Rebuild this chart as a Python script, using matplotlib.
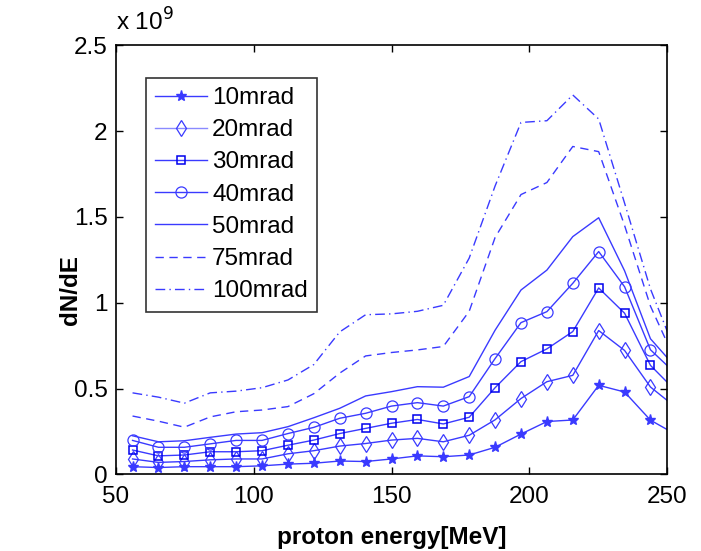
import matplotlib
matplotlib.use("Agg")
import matplotlib.pyplot as plt
from matplotlib.ticker import FuncFormatter

plt.rcParams['font.family'] = ['Liberation Sans', 'DejaVu Sans']

energy = [56, 65.4, 74.8, 84.2, 93.6, 103, 112.4, 121.8, 131.2, 140.6, 150,
          159.4, 168.8, 178.2, 187.6, 197, 206.4, 215.8, 225.2, 234.6, 244, 253.4]

# dN/dE in units of 1e9
mrad10 = [0.045, 0.04, 0.045, 0.045, 0.045, 0.05, 0.06, 0.065, 0.078, 0.075, 0.09,
          0.108, 0.103, 0.113, 0.158, 0.235, 0.308, 0.317, 0.519, 0.48, 0.316, 0.231]
mrad20 = [0.09, 0.07, 0.075, 0.085, 0.09, 0.09, 0.12, 0.138, 0.165, 0.18, 0.2,
          0.21, 0.19, 0.228, 0.318, 0.442, 0.54, 0.577, 0.838, 0.722, 0.509, 0.388]
mrad30 = [0.142, 0.108, 0.113, 0.132, 0.132, 0.138, 0.17, 0.2, 0.238, 0.268, 0.298,
          0.32, 0.294, 0.333, 0.505, 0.657, 0.731, 0.832, 1.086, 0.939, 0.635, 0.483]
mrad40 = [0.198, 0.158, 0.158, 0.178, 0.198, 0.198, 0.238, 0.274, 0.327, 0.356, 0.398,
          0.418, 0.398, 0.453, 0.675, 0.884, 0.948, 1.113, 1.298, 1.093, 0.726, 0.583]
mrad50 = [0.225, 0.19, 0.196, 0.216, 0.235, 0.243, 0.278, 0.33, 0.385, 0.457, 0.482,
          0.511, 0.508, 0.57, 0.84, 1.074, 1.19, 1.385, 1.495, 1.186, 0.79, 0.62]
mrad75 = [0.34, 0.31, 0.275, 0.335, 0.365, 0.375, 0.395, 0.47, 0.59, 0.69, 0.71,
          0.725, 0.745, 0.95, 1.38, 1.63, 1.70, 1.91, 1.88, 1.45, 0.98, 0.65]
mrad100 = [0.475, 0.45, 0.415, 0.475, 0.485, 0.505, 0.55, 0.64, 0.83, 0.93, 0.935,
           0.95, 0.985, 1.26, 1.68, 2.05, 2.06, 2.21, 2.07, 1.58, 1.08, 0.70]

labels = ['10mrad', '20mrad', '30mrad', '40mrad', '50mrad', '75mrad', '100mrad']
xticks = [50, 100, 150, 200, 250]
yticks = [0, 0.5, 1, 1.5, 2, 2.5]

fig = plt.figure(figsize=(7.01, 5.51), dpi=100)
ax = fig.add_axes([0.1655, 0.139, 0.786, 0.779])

blue = '#3a3aff'
lw = 1.0
fs = 17.5
ax.plot(energy, mrad10, color=blue, lw=lw, marker='*', ms=8, mfc=blue, mec=blue, label=labels[0])
ax.plot(energy, mrad20, color=blue, lw=lw, marker='d', ms=8.5, mfc='none', mec=blue, mew=0.9, label=labels[1])
ax.plot(energy, mrad30, color=blue, lw=lw, marker='s', ms=5.5, mfc='none', mec='#0000ee', mew=1.1, label=labels[2])
ax.plot(energy, mrad40, color=blue, lw=lw, marker='o', ms=8, mfc='none', mec=blue, mew=0.9, label=labels[3])
ax.plot(energy, mrad50, color=blue, lw=lw, ls='-', label=labels[4])
ax.plot(energy, mrad75, color=blue, lw=lw, ls=(0, (6, 4)), label=labels[5])
ax.plot(energy, mrad100, color=blue, lw=lw, ls=(0, (7, 3, 1, 3)), label=labels[6])

ax.set_xlim(50, 250)
ax.set_ylim(0, 2.5)
ax.set_xticks(xticks)
ax.set_yticks(yticks)
fmt = FuncFormatter(lambda v, p: '%g' % v)
ax.xaxis.set_major_formatter(fmt)
ax.yaxis.set_major_formatter(fmt)
ax.tick_params(direction='in', top=True, right=True, length=5, width=1, labelsize=fs)
ax.tick_params(axis='x', pad=8)
ax.tick_params(axis='y', pad=6)
for s in ax.spines.values():
    s.set_linewidth(1.2)

ax.set_xlabel('proton energy[MeV]', fontsize=fs, fontweight='bold')
ax.xaxis.set_label_coords(0.5, -0.12)
ax.set_ylabel('dN/dE', fontsize=fs, fontweight='bold')
ax.yaxis.set_label_coords(-0.062, 0.43)
fig.text(0.166, 0.936, r'x 10$^{9}$', fontsize=fs, ha='left', va='bottom')

leg = ax.legend(loc='upper left', bbox_to_anchor=(0.054, 0.924), fontsize=fs,
                frameon=True, fancybox=False, edgecolor='black', handlelength=2.15,
                labelspacing=0.42, borderpad=0.38, handletextpad=0.2, borderaxespad=0)
leg.get_frame().set_linewidth(1.2)
leg.get_lines()[1].set_color('#8a8aff')

fig.savefig('out.png', dpi=100)
